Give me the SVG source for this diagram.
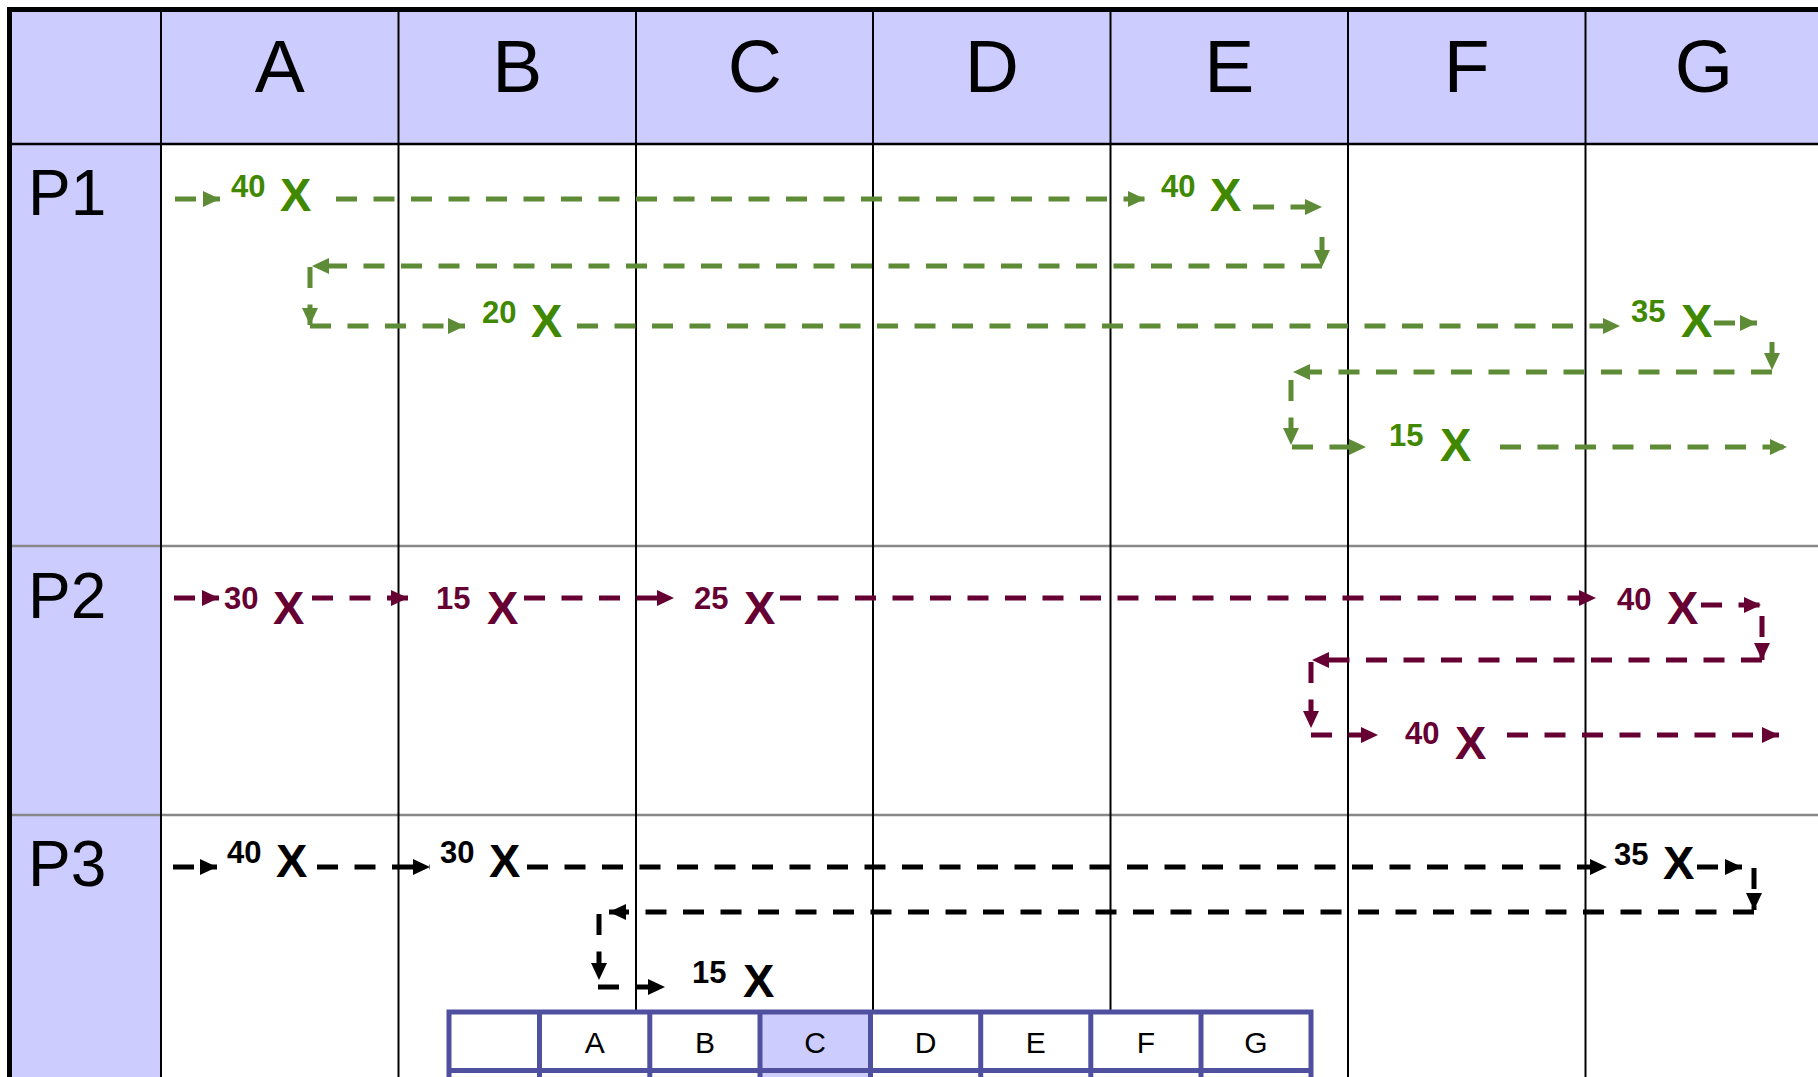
<svg xmlns="http://www.w3.org/2000/svg" width="1818" height="1077" viewBox="0 0 1818 1077">
<defs>
<style>
.hdr{font-family:"Liberation Sans",Arial,sans-serif;font-size:75px;fill:#000;text-anchor:middle}
.row{font-family:"Liberation Sans",Arial,sans-serif;font-size:64px;fill:#000}
.num{font-family:"Liberation Sans",Arial,sans-serif;font-size:31px;font-weight:bold}
.x{font-family:"Liberation Sans",Arial,sans-serif;font-size:47px;font-weight:bold}
.mini{font-family:"Liberation Sans",Arial,sans-serif;font-size:30px;fill:#000;text-anchor:middle}
.g{fill:#408800}
.m{fill:#660033}
.k{fill:#000}
.grid{stroke:#000;stroke-width:2;fill:none}
.div{stroke:#888;stroke-width:2.5;fill:none}
.cg{stroke:#5e8b36;stroke-width:5;stroke-dasharray:21 16.5;fill:none;marker-end:url(#ag)}
.cm{stroke:#660033;stroke-width:5;stroke-dasharray:21 16.5;fill:none;marker-end:url(#am)}
.ck{stroke:#000;stroke-width:5;stroke-dasharray:21 16.5;fill:none;marker-end:url(#ak)}
.mt{stroke:#5050a0;stroke-width:5;fill:none}
</style>
<marker id="ag" markerUnits="userSpaceOnUse" markerWidth="18" markerHeight="17" refX="17" refY="8" orient="auto"><path d="M0,0 L17,8 L0,16 z" fill="#5e8b36"/></marker>
<marker id="am" markerUnits="userSpaceOnUse" markerWidth="18" markerHeight="17" refX="17" refY="8" orient="auto"><path d="M0,0 L17,8 L0,16 z" fill="#660033"/></marker>
<marker id="ak" markerUnits="userSpaceOnUse" markerWidth="18" markerHeight="17" refX="17" refY="8" orient="auto"><path d="M0,0 L17,8 L0,16 z" fill="#000"/></marker>
</defs>
<rect x="0" y="0" width="1818" height="1077" fill="#fff"/>
<g id="table">
<rect x="12" y="12" width="1806" height="132" fill="#ccccff"/>
<rect x="12" y="144" width="149" height="933" fill="#ccccff"/>
<line class="div" x1="12" y1="546" x2="1818" y2="546"/>
<line class="div" x1="12" y1="815" x2="1818" y2="815"/>
<line class="grid" x1="161" y1="12" x2="161" y2="1077"/>
<line class="grid" x1="398.5" y1="12" x2="398.5" y2="1077"/>
<line class="grid" x1="636" y1="12" x2="636" y2="1077"/>
<line class="grid" x1="873" y1="12" x2="873" y2="1077"/>
<line class="grid" x1="1110.5" y1="12" x2="1110.5" y2="1077"/>
<line class="grid" x1="1348" y1="12" x2="1348" y2="1077"/>
<line class="grid" x1="1585.5" y1="12" x2="1585.5" y2="1077"/>
<line x1="12" y1="144" x2="1818" y2="144" stroke="#000" stroke-width="2.5"/>
<line x1="7" y1="9.5" x2="1818" y2="9.5" stroke="#000" stroke-width="5"/>
<line x1="9.5" y1="7" x2="9.5" y2="1077" stroke="#000" stroke-width="5"/>
<text class="hdr" x="279.75" y="92">A</text>
<text class="hdr" x="517.25" y="92">B</text>
<text class="hdr" x="754.75" y="92">C</text>
<text class="hdr" x="991.75" y="92">D</text>
<text class="hdr" x="1229.25" y="92">E</text>
<text class="hdr" x="1466.75" y="92">F</text>
<text class="hdr" x="1704" y="92">G</text>
<text class="row" x="28" y="215">P1</text>
<text class="row" x="28" y="618">P2</text>
<text class="row" x="28" y="886">P3</text>
</g>
<g id="connectors">
<path class="cg" d="M175,199 H220"/>
<path class="cg" d="M336,199 H1145"/>
<path class="cg" d="M1253,207 H1322"/>
<path class="cg" d="M1322,237 V267"/>
<path class="cg" d="M1322,266 H312"/>
<path class="cg" d="M310,267 V325"/>
<path class="cg" d="M310,326 H465"/>
<path class="cg" d="M577,326 H1620"/>
<path class="cg" d="M1714,323 H1757"/>
<path class="cg" d="M1772,342 V370"/>
<path class="cg" d="M1772,372 H1293"/>
<path class="cg" d="M1291,380 V445"/>
<path class="cg" d="M1292,447 H1366"/>
<path class="cg" d="M1500,447 H1787"/>
<path class="cm" d="M174,598 H219"/>
<path class="cm" d="M312,598 H408"/>
<path class="cm" d="M524,598 H674"/>
<path class="cm" d="M780,598 H1596"/>
<path class="cm" d="M1701,605 H1761"/>
<path class="cm" d="M1762,616 V660"/>
<path class="cm" d="M1762,660 H1312"/>
<path class="cm" d="M1311,662 V728"/>
<path class="cm" d="M1311,735 H1378"/>
<path class="cm" d="M1507,735 H1779"/>
<path class="ck" d="M173,867 H217"/>
<path class="ck" d="M317,867 H430"/>
<path class="ck" d="M527,867 H1607"/>
<path class="ck" d="M1697,867 H1742"/>
<path class="ck" d="M1754,868 V910"/>
<path class="ck" d="M1754,912 H609"/>
<path class="ck" d="M599,914 V980"/>
<path class="ck" d="M598,987 H665"/>
</g>
<g id="p1-a"><text class="num g" x="231" y="197">40</text><text class="x g" x="280" y="211">X</text></g>
<g id="p1-e"><text class="num g" x="1161" y="197">40</text><text class="x g" x="1210" y="211">X</text></g>
<g id="p1-b"><text class="num g" x="482" y="323">20</text><text class="x g" x="531" y="337">X</text></g>
<g id="p1-g"><text class="num g" x="1631" y="322">35</text><text class="x g" x="1681" y="337">X</text></g>
<g id="p1-f"><text class="num g" x="1389" y="446">15</text><text class="x g" x="1440" y="461">X</text></g>
<g id="p2-a"><text class="num m" x="224" y="609">30</text><text class="x m" x="273" y="624">X</text></g>
<g id="p2-b"><text class="num m" x="436" y="609">15</text><text class="x m" x="487" y="624">X</text></g>
<g id="p2-c"><text class="num m" x="694" y="609">25</text><text class="x m" x="744" y="624">X</text></g>
<g id="p2-g"><text class="num m" x="1617" y="610">40</text><text class="x m" x="1667" y="624">X</text></g>
<g id="p2-f"><text class="num m" x="1405" y="744">40</text><text class="x m" x="1455" y="759">X</text></g>
<g id="p3-a"><text class="num k" x="227" y="863">40</text><text class="x k" x="276" y="877">X</text></g>
<g id="p3-b"><text class="num k" x="440" y="863">30</text><text class="x k" x="489" y="877">X</text></g>
<g id="p3-g"><text class="num k" x="1614" y="865">35</text><text class="x k" x="1663" y="879">X</text></g>
<g id="p3-c"><text class="num k" x="692" y="983">15</text><text class="x k" x="743" y="997">X</text></g>
<g id="mini-table">
<rect x="449" y="1012" width="862" height="70" fill="#fff"/>
<rect x="760" y="1012" width="110.5" height="70" fill="#ccccff"/>
<path class="mt" d="M449,1082 V1012 H1311 V1082 M449,1070.5 H1311 M539.5,1012 V1082 M649.8,1012 V1082 M760,1012 V1082 M870.5,1012 V1082 M980.7,1012 V1082 M1090.8,1012 V1082 M1201,1012 V1082"/>
<text class="mini" x="594.7" y="1053">A</text>
<text class="mini" x="704.9" y="1053">B</text>
<text class="mini" x="815.2" y="1053">C</text>
<text class="mini" x="925.6" y="1053">D</text>
<text class="mini" x="1035.8" y="1053">E</text>
<text class="mini" x="1145.9" y="1053">F</text>
<text class="mini" x="1256" y="1053">G</text>
</g>
</svg>
